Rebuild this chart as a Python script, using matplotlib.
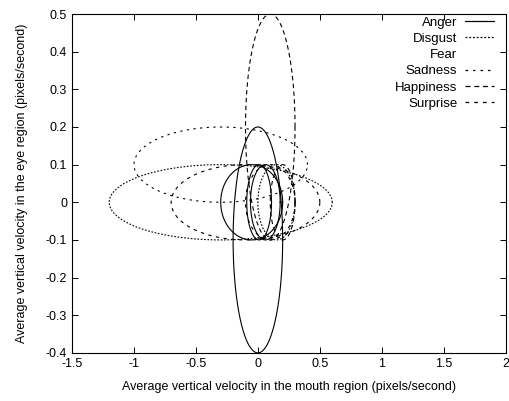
import numpy as np
import matplotlib
matplotlib.use('Agg')
import matplotlib.pyplot as plt
from matplotlib.lines import Line2D

plt.rcParams['font.family'] = ['Liberation Sans', 'DejaVu Sans']

# ellipses per emotion: (centre x, centre y, half width, half height)
emotions = ['Anger', 'Disgust', 'Fear', 'Sadness', 'Happiness', 'Surprise']
anger = [(0.0, -0.1, 0.2, 0.3), (-0.05, 0.0, 0.25, 0.1)]
disgust = [(-0.3, 0.0, 0.9, 0.1), (0.15, 0.0, 0.15, 0.1)]
fear = [(0.01, 0.0, 0.1, 0.1), (0.06, 0.0, 0.12, 0.1)]
sadness = [(-0.3, 0.1, 0.7, 0.1)]
happiness = [(0.1, 0.2, 0.2, 0.3), (0.2, 0.0, 0.1, 0.1)]
surprise = [(-0.1, 0.0, 0.6, 0.1), (0.1, 0.0, 0.2, 0.1)]

styles = {
    'Anger': '-',
    'Disgust': (0, (1.5, 1.5)),
    'Fear': '-',
    'Sadness': (0, (2, 4)),
    'Happiness': (0, (4, 3)),
    'Surprise': (0, (3, 4)),
}
data = dict(zip(emotions, [anger, disgust, fear, sadness, happiness, surprise]))

xticks = [-1.5, -1, -0.5, 0, 0.5, 1, 1.5, 2]
yticks = [-0.4, -0.3, -0.2, -0.1, 0, 0.1, 0.2, 0.3, 0.4, 0.5]

fig = plt.figure(figsize=(5.09, 4.01), dpi=100)
ax = fig.add_axes([0.1415, 0.12, 0.852, 0.845])

t = np.linspace(0, 2 * np.pi, 400)
handles = []
for name in emotions:
    for (cx, cy, a, b) in data[name]:
        ax.plot(cx + a * np.cos(t), cy + b * np.sin(t), color='black',
                lw=0.8, linestyle=styles[name])
    if name == 'Fear':
        handles.append(Line2D([], [], linestyle='None'))
    else:
        handles.append(Line2D([], [], color='black', lw=0.9, linestyle=styles[name]))

ax.set_xlim(-1.5, 2)
ax.set_ylim(-0.4, 0.5)
ax.set_xticks(xticks)
ax.set_yticks(yticks)
ax.set_xticklabels(['%g' % v for v in xticks])
ax.set_yticklabels(['%g' % v for v in yticks])
ax.tick_params(direction='in', top=True, right=True, labelsize=9, length=4, width=0.7)
for s in ax.spines.values():
    s.set_linewidth(0.8)

ax.set_xlabel('Average vertical velocity in the mouth region (pixels/second)', fontsize=9, labelpad=8)
ax.set_ylabel('Average vertical velocity in the eye region (pixels/second)', fontsize=9, labelpad=13)

ax.legend(handles, emotions, loc='upper right', bbox_to_anchor=(0.995, 1.02),
          frameon=False, markerfirst=False,
          fontsize=9.5, handlelength=2.2, labelspacing=0.3, borderaxespad=0.3,
          handletextpad=0.6)

fig.savefig('out.png', dpi=100)
